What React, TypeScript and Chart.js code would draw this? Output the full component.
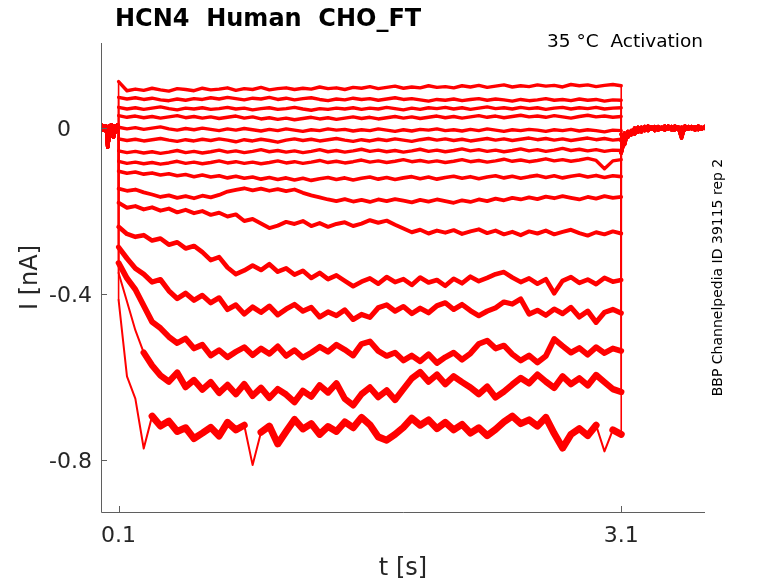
import React, { useRef, useEffect } from 'react';
import { Chart, registerables } from 'chart.js';

Chart.register(...registerables);

// ---- data (t in s, I in nA) ----

const holdTimes = [
  -0.005, 0, 0.005, 0.01, 0.015, 0.02, 0.025, 0.03, 0.035, 0.04, 0.045,
  0.05, 0.055, 0.06, 0.065, 0.07, 0.075, 0.08, 0.085, 0.09, 0.095, 0.1,
];
const holdValues = [
  0.004, -0.005, 0.006, -0.004, 0.005, -0.006, 0.004, -0.008, -0.046, -0.03, 0.005,
  -0.006, 0.007, -0.018, 0.004, -0.022, 0.006, -0.01, 0.005, -0.007, 0.008, 0.0,
];

const stepTimes = [
  0.1, 0.15, 0.2, 0.25, 0.3, 0.35, 0.4, 0.45, 0.5, 0.55,
  0.6, 0.65, 0.7, 0.75, 0.8, 0.85, 0.9, 0.95, 1.0, 1.05,
  1.1, 1.15, 1.2, 1.25, 1.3, 1.35, 1.4, 1.45, 1.5, 1.55,
  1.6, 1.65, 1.7, 1.75, 1.8, 1.85, 1.9, 1.95, 2.0, 2.05,
  2.1, 2.15, 2.2, 2.25, 2.3, 2.35, 2.4, 2.45, 2.5, 2.55,
  2.6, 2.65, 2.7, 2.75, 2.8, 2.85, 2.9, 2.95, 3.0, 3.05, 3.1,
];

const sweep01 = [
  0.112, 0.09, 0.094, 0.091, 0.096, 0.092, 0.089, 0.095, 0.093, 0.09,
  0.096, 0.092, 0.094, 0.097, 0.091, 0.095, 0.093, 0.098, 0.092, 0.095,
  0.097, 0.093, 0.096, 0.094, 0.099, 0.095, 0.097, 0.093, 0.098, 0.096,
  0.1, 0.095, 0.098, 0.101, 0.096, 0.099, 0.097, 0.102, 0.098, 0.1,
  0.097, 0.102, 0.099, 0.103, 0.098, 0.101, 0.104, 0.099, 0.102, 0.1,
  0.104, 0.101, 0.103, 0.099, 0.105, 0.102, 0.104, 0.1, 0.103, 0.105, 0.102,
];
const sweep02 = [
  0.074, 0.07, 0.073, 0.069, 0.072, 0.068, 0.066, 0.07, 0.067, 0.071,
  0.069, 0.073, 0.07, 0.074, 0.071, 0.068, 0.072, 0.07, 0.074, 0.069,
  0.072, 0.068, 0.071, 0.073, 0.069, 0.066, 0.07, 0.068, 0.072, 0.069,
  0.071, 0.067, 0.07, 0.073, 0.069, 0.071, 0.068, 0.065, 0.069, 0.067,
  0.07, 0.066, 0.069, 0.071, 0.067, 0.07, 0.068, 0.065, 0.069, 0.066,
  0.068, 0.071, 0.067, 0.069, 0.066, 0.07, 0.067, 0.069, 0.065, 0.068, 0.067,
];
const sweep03 = [
  0.05, 0.046, 0.049, 0.045, 0.048, 0.051, 0.047, 0.044, 0.048, 0.046,
  0.049, 0.045, 0.047, 0.05, 0.046, 0.048, 0.044, 0.047, 0.049, 0.045,
  0.047, 0.05, 0.046, 0.043, 0.047, 0.045, 0.048, 0.046, 0.049, 0.045,
  0.048, 0.046, 0.05, 0.047, 0.044, 0.048, 0.045, 0.049, 0.047, 0.05,
  0.046, 0.049, 0.045, 0.048, 0.051, 0.047, 0.049, 0.046, 0.05, 0.047,
  0.049, 0.045, 0.048, 0.05, 0.046, 0.049, 0.047, 0.05, 0.046, 0.048, 0.049,
];
const sweep04 = [
  0.03, 0.026, 0.029, 0.025, 0.028, 0.024, 0.027, 0.03, 0.025, 0.028,
  0.024, 0.027, 0.023, 0.026, 0.029, 0.024, 0.027, 0.022, 0.025, 0.021,
  0.024, 0.02, 0.023, 0.026, 0.022, 0.025, 0.021, 0.024, 0.027, 0.023,
  0.026, 0.022, 0.025, 0.028, 0.024, 0.027, 0.023, 0.026, 0.029, 0.025,
  0.028, 0.024, 0.027, 0.03, 0.026, 0.029, 0.025, 0.028, 0.031, 0.027,
  0.029, 0.026, 0.03, 0.027, 0.024, 0.028, 0.031, 0.027, 0.029, 0.026, 0.028,
];
const sweep05 = [
  0.002, -0.002, 0.001, -0.003, 0.0, 0.003, -0.002, -0.005, -0.001, -0.004,
  0.0, -0.003, -0.006, -0.002, -0.005, -0.001, -0.004, -0.007, -0.003, -0.006,
  -0.002, -0.005, -0.008, -0.004, -0.006, -0.002, -0.005, -0.003, -0.007, -0.004,
  -0.006, -0.002, -0.005, -0.008, -0.004, -0.007, -0.003, -0.005, -0.002, -0.006,
  -0.004, -0.007, -0.003, -0.006, -0.002, -0.005, -0.008, -0.004, -0.006, -0.003,
  -0.005, -0.008, -0.004, -0.006, -0.003, -0.007, -0.004, -0.006, -0.009, -0.005, -0.006,
];
const sweep06 = [
  -0.026, -0.03, -0.027, -0.031, -0.028, -0.025, -0.029, -0.032, -0.028, -0.031,
  -0.027, -0.03, -0.026, -0.029, -0.033, -0.028, -0.031, -0.027, -0.03, -0.034,
  -0.029, -0.026, -0.03, -0.027, -0.031, -0.028, -0.025, -0.029, -0.032, -0.028,
  -0.031, -0.027, -0.03, -0.026, -0.029, -0.032, -0.028, -0.025, -0.029, -0.026,
  -0.03, -0.027, -0.031, -0.028, -0.025, -0.029, -0.026, -0.03, -0.027, -0.024,
  -0.028, -0.025, -0.029, -0.026, -0.03, -0.027, -0.024, -0.028, -0.025, -0.029, -0.027,
];
const sweep07 = [
  -0.055, -0.059, -0.056, -0.06, -0.057, -0.061, -0.058, -0.054, -0.059, -0.056,
  -0.06, -0.057, -0.053, -0.058, -0.055, -0.059, -0.056, -0.052, -0.057, -0.054,
  -0.058, -0.055, -0.059, -0.056, -0.052, -0.057, -0.054, -0.058, -0.055, -0.051,
  -0.056, -0.053, -0.057, -0.054, -0.058, -0.055, -0.051, -0.056, -0.053, -0.057,
  -0.054, -0.05, -0.055, -0.052, -0.056, -0.053, -0.057, -0.054, -0.05, -0.055,
  -0.052, -0.056, -0.053, -0.049, -0.054, -0.051, -0.055, -0.052, -0.056, -0.053, -0.054,
];
const sweep08 = [
  -0.08, -0.085, -0.082, -0.086, -0.083, -0.087, -0.084, -0.08, -0.085, -0.082,
  -0.086, -0.083, -0.079, -0.084, -0.081, -0.085, -0.082, -0.086, -0.083, -0.079,
  -0.084, -0.081, -0.085, -0.082, -0.078, -0.083, -0.08, -0.084, -0.081, -0.077,
  -0.082, -0.079, -0.083, -0.08, -0.076, -0.081, -0.078, -0.082, -0.079, -0.083,
  -0.08, -0.076, -0.081, -0.078, -0.082, -0.079, -0.075, -0.08, -0.077, -0.081,
  -0.078, -0.074, -0.079, -0.076, -0.08, -0.077, -0.073, -0.078, -0.098, -0.079, -0.076,
];
const sweep09 = [
  -0.104, -0.109, -0.106, -0.111, -0.108, -0.113, -0.11, -0.115, -0.112, -0.117,
  -0.113, -0.118, -0.115, -0.12, -0.116, -0.121, -0.118, -0.123, -0.119, -0.124,
  -0.12, -0.125, -0.121, -0.126, -0.122, -0.119, -0.124, -0.12, -0.125, -0.121,
  -0.118, -0.123, -0.119, -0.124, -0.12, -0.117, -0.122, -0.118, -0.123, -0.119,
  -0.116, -0.121, -0.117, -0.122, -0.118, -0.115, -0.12, -0.116, -0.121, -0.117,
  -0.114, -0.119, -0.115, -0.12, -0.116, -0.113, -0.118, -0.114, -0.119, -0.115, -0.117,
];
const sweep10 = [
  -0.146, -0.151, -0.148, -0.155, -0.16, -0.166, -0.162, -0.168, -0.164, -0.169,
  -0.163, -0.167, -0.161, -0.153, -0.149, -0.145, -0.15, -0.146, -0.151, -0.147,
  -0.152, -0.148, -0.156, -0.162, -0.167, -0.172, -0.176, -0.171, -0.177, -0.173,
  -0.178, -0.172, -0.176, -0.171, -0.175, -0.179, -0.173, -0.177, -0.172, -0.176,
  -0.18, -0.174, -0.178, -0.172, -0.176, -0.17, -0.174, -0.168, -0.172, -0.167,
  -0.171, -0.165, -0.169, -0.164, -0.168, -0.172, -0.166, -0.17, -0.164, -0.168, -0.166,
];
const sweep11 = [
  -0.18, -0.192, -0.188, -0.196, -0.191, -0.199, -0.194, -0.203, -0.197, -0.205,
  -0.2, -0.209, -0.204, -0.213, -0.208, -0.224, -0.219, -0.23, -0.241, -0.235,
  -0.226, -0.231, -0.224, -0.236, -0.229, -0.238, -0.231, -0.227, -0.236, -0.23,
  -0.222, -0.228, -0.223, -0.233, -0.242, -0.251, -0.245, -0.254, -0.247, -0.252,
  -0.246, -0.255, -0.249, -0.244, -0.253, -0.247, -0.256, -0.25, -0.258, -0.249,
  -0.254, -0.247, -0.256, -0.25, -0.245, -0.253, -0.259, -0.251, -0.256, -0.249, -0.254,
];
const sweep12 = [
  -0.238, -0.255, -0.262, -0.258, -0.271, -0.266, -0.281, -0.275, -0.29, -0.284,
  -0.299, -0.318, -0.311, -0.336, -0.352, -0.343, -0.331, -0.342, -0.328, -0.346,
  -0.338, -0.353, -0.344, -0.361, -0.349, -0.364, -0.355, -0.368, -0.381, -0.37,
  -0.362, -0.375, -0.359, -0.371, -0.364, -0.378, -0.36, -0.372, -0.366, -0.38,
  -0.363, -0.374, -0.358, -0.369, -0.361, -0.352, -0.347, -0.36, -0.371, -0.362,
  -0.375, -0.364, -0.398, -0.368, -0.359, -0.373, -0.365, -0.376, -0.361, -0.37, -0.366,
];
const sweep13 = [
  -0.287, -0.314, -0.338, -0.352, -0.371, -0.365, -0.392, -0.411, -0.398, -0.415,
  -0.403, -0.421, -0.409, -0.437, -0.426, -0.448, -0.431, -0.444, -0.429, -0.45,
  -0.436, -0.425, -0.441, -0.432, -0.455, -0.443, -0.452, -0.438, -0.461, -0.449,
  -0.456, -0.433, -0.426, -0.441, -0.43, -0.447, -0.434, -0.445, -0.428, -0.421,
  -0.437, -0.425, -0.44, -0.452, -0.441, -0.433, -0.419, -0.424, -0.412, -0.448,
  -0.439, -0.451, -0.436, -0.447, -0.432, -0.455, -0.441, -0.468, -0.444, -0.437, -0.446,
];
const sweep14 = [
  -0.325, -0.362, -0.389, -0.428, -0.467, -0.482, -0.503, -0.518, -0.507, -0.531,
  -0.522, -0.548, -0.535, -0.552, -0.539, -0.528, -0.547, -0.531, -0.544, -0.526,
  -0.549, -0.535, -0.553, -0.541, -0.527, -0.539, -0.522, -0.534, -0.548, -0.52,
  -0.514, -0.537, -0.549, -0.541, -0.56, -0.548, -0.562, -0.545, -0.566, -0.552,
  -0.541, -0.558, -0.543, -0.52, -0.512, -0.531, -0.524, -0.545, -0.56, -0.548,
  -0.565, -0.549, -0.508, -0.525, -0.541, -0.53, -0.546, -0.528, -0.542, -0.531, -0.537,
];
const sweep15 = [
  -0.349, -0.418, -0.487, -0.541, -0.572, -0.596, -0.611, -0.589, -0.624, -0.607,
  -0.63, -0.612, -0.638, -0.619, -0.641, -0.617, -0.645, -0.626, -0.65, -0.629,
  -0.642, -0.66, -0.633, -0.647, -0.62, -0.637, -0.615, -0.652, -0.668, -0.641,
  -0.625, -0.648, -0.632, -0.655, -0.629, -0.603, -0.588, -0.611, -0.594, -0.617,
  -0.598, -0.612, -0.625, -0.641, -0.623, -0.649, -0.635, -0.618, -0.602, -0.615,
  -0.594, -0.611, -0.626, -0.598, -0.617, -0.603, -0.62, -0.595, -0.612, -0.629, -0.636,
];
const sweep16 = [
  -0.414, -0.598, -0.652, -0.772, -0.694, -0.718, -0.706, -0.731, -0.722, -0.748,
  -0.735, -0.721, -0.742, -0.709, -0.727, -0.716, -0.812, -0.733, -0.718, -0.761,
  -0.731, -0.702, -0.725, -0.712, -0.738, -0.719, -0.731, -0.708, -0.722, -0.697,
  -0.715, -0.744, -0.752, -0.738, -0.721, -0.699, -0.716, -0.703, -0.724, -0.709,
  -0.727, -0.714, -0.735, -0.722, -0.741, -0.726, -0.708, -0.694, -0.712, -0.703,
  -0.718, -0.697, -0.736, -0.771, -0.738, -0.724, -0.741, -0.716, -0.779, -0.727, -0.738,
];

const tailTimes = [
  3.1, 3.12, 3.14, 3.16, 3.18, 3.2, 3.22, 3.24, 3.26, 3.28,
  3.3, 3.32, 3.34, 3.36, 3.38, 3.4, 3.42, 3.44, 3.46, 3.48,
  3.5, 3.52, 3.54, 3.56, 3.58, 3.6,
];
const tailA = [
  -0.06, -0.028, -0.018, -0.01, -0.014, -0.004, -0.009, 0.001, -0.006, 0.003,
  -0.004, 0.004, -0.003, 0.005, -0.002, 0.004, -0.004, 0.003, -0.002, 0.005,
  -0.003, 0.004, -0.001, 0.005, -0.002, 0.003,
];
const tailB = [
  -0.03, -0.012, -0.022, -0.006, -0.012, 0.002, -0.007, 0.004, -0.005, 0.002,
  -0.006, 0.003, 0.0, -0.005, 0.004, -0.002, 0.005, -0.003, 0.002, -0.004,
  0.004, -0.002, 0.003, -0.004, 0.002, -0.001,
];
const tailC = [
  -0.015, -0.04, -0.008, -0.016, 0.0, -0.01, 0.002, -0.006, 0.005, -0.003,
  0.004, -0.005, 0.002, -0.002, 0.005, -0.004, -0.004, 0.002, -0.024, 0.004,
  -0.002, 0.003, -0.005, 0.002, -0.003, 0.004,
];

const sweeps = [
  sweep01, sweep02, sweep03, sweep04, sweep05, sweep06, sweep07, sweep08,
  sweep09, sweep10, sweep11, sweep12, sweep13, sweep14, sweep15, sweep16,
];
const tails = [tailA, tailB, tailC];

const xTicks = [0.1, 3.1];
const xTickLabels = ['0.1', '3.1'];
const yTicks = [0, -0.4, -0.8];
const yTickLabels = ['0', '-0.4', '-0.8'];

const titleText = 'HCN4  Human  CHO_FT';
const conditionText = '35 °C  Activation';
const sourceText = 'BBP Channelpedia ID 39115 rep 2';
const xTitle = 't [s]';
const yTitle = 'I [nA]';

// line widths standing in for the noise band of each sweep (px)
const sweepWidths = [3.4, 3.4, 3.4, 3.4, 3.4, 3.4, 3.4, 3.4, 3.6, 3.8, 4, 4.6, 5.2, 5.8, 6.4, 7];

const FONT = '"DejaVu Sans", "Noto Sans", sans-serif';

// axes, inward ticks and all the text, MATLAB style
const figureDecor = {
  id: 'figureDecor',
  afterDraw(chart: Chart) {
    const { ctx, chartArea: a } = chart;
    const xs = chart.scales.x;
    const ys = chart.scales.y;
    ctx.save();

    ctx.strokeStyle = '#5f5f5f';
    ctx.lineWidth = 1;
    ctx.beginPath();
    ctx.moveTo(a.left + 0.5, a.top);
    ctx.lineTo(a.left + 0.5, a.bottom + 0.5);
    ctx.lineTo(a.right, a.bottom + 0.5);
    yTicks.forEach((v) => {
      const py = Math.round(ys.getPixelForValue(v)) + 0.5;
      ctx.moveTo(a.left, py);
      ctx.lineTo(a.left + 6, py);
    });
    xTicks.forEach((v) => {
      const px = Math.round(xs.getPixelForValue(v)) + 0.5;
      ctx.moveTo(px, a.bottom);
      ctx.lineTo(px, a.bottom - 6);
    });
    ctx.stroke();

    ctx.fillStyle = '#262626';
    ctx.font = `22px ${FONT}`;
    ctx.textBaseline = 'alphabetic';
    ctx.textAlign = 'right';
    yTicks.forEach((v, i) => {
      const py = ys.getPixelForValue(v);
      // short labels keep the width of the longer ones in the original
      const label = yTickLabels[i].length === 1 ? yTickLabels[i] + '   ' : yTickLabels[i];
      ctx.fillText(label, a.left - 9, py + 8);
    });
    ctx.textAlign = 'center';
    xTicks.forEach((v, i) => {
      ctx.fillText(xTickLabels[i], xs.getPixelForValue(v), a.bottom + 30);
    });

    ctx.font = `24px ${FONT}`;
    ctx.fillText(xTitle, (a.left + a.right) / 2, 575);
    ctx.save();
    ctx.translate(37, (a.top + a.bottom) / 2);
    ctx.rotate(-Math.PI / 2);
    ctx.fillText(yTitle, 0, 0);
    ctx.restore();

    ctx.fillStyle = '#000';
    ctx.font = `bold 24px ${FONT}`;
    ctx.textAlign = 'left';
    ctx.fillText(titleText, a.left + 14, 26);

    ctx.font = `18.5px ${FONT}`;
    ctx.textAlign = 'right';
    ctx.fillText(conditionText, a.right - 2, 47);

    ctx.font = `14px ${FONT}`;
    ctx.textAlign = 'center';
    ctx.save();
    ctx.translate(722, (a.top + a.bottom) / 2);
    ctx.rotate(-Math.PI / 2);
    ctx.fillText(sourceText, 0, 0);
    ctx.restore();

    ctx.restore();
  },
};

const TraceChart: React.FC = () => {
  const canvasRef = useRef<HTMLCanvasElement>(null);
  const chartRef = useRef<Chart | null>(null);

  useEffect(() => {
    if (!canvasRef.current) return;
    if (chartRef.current) chartRef.current.destroy();
    const ctx = canvasRef.current.getContext('2d');
    if (!ctx) return;

    const datasets = sweeps.map((sweep, i) => {
      const tail = tails[i % tails.length];
      const bandWidth = sweepWidths[i];
      return {
        data: [
          ...holdTimes.map((t, j) => ({ x: t, y: holdValues[j] })),
          ...stepTimes.map((t, j) => ({ x: t, y: sweep[j] })),
          ...tailTimes.map((t, j) => ({ x: t, y: tail[j] })),
        ],
        borderColor: '#ff0000',
        borderWidth: bandWidth,
        borderJoinStyle: 'round' as const,
        borderCapStyle: 'round' as const,
        pointRadius: 0,
        tension: 0,
        fill: false,
        segment: {
          // steps and fast transients are thin strokes, not bands
          borderWidth: (c: any) => {
            const dx = Math.abs(c.p1.x - c.p0.x);
            const dy = Math.abs(c.p1.y - c.p0.y);
            if (dx < 0.5) return 1.6;
            if (c.p0.parsed.x >= 3.1 || c.p1.parsed.x <= 0.1) return 3.4;
            return dy > 2.5 * dx ? 2 : bandWidth;
          },
        },
      };
    });

    chartRef.current = new Chart(ctx, {
      type: 'line',
      data: { datasets },
      options: {
        responsive: false,
        maintainAspectRatio: false,
        animation: false,
        layout: { padding: { left: 101, right: 73, top: 43, bottom: 71 } },
        plugins: {
          legend: { display: false },
          tooltip: { enabled: false },
        },
        scales: {
          x: { type: 'linear', min: -0.005, max: 3.6, display: false },
          y: { type: 'linear', min: -0.925, max: 0.205, display: false },
        },
      },
      plugins: [figureDecor],
    });

    return () => {
      if (chartRef.current) {
        chartRef.current.destroy();
        chartRef.current = null;
      }
    };
  }, []);

  return <canvas ref={canvasRef} width={778} height={583} />;
};

export default function App() {
  return (
    <div style={{ position: 'fixed', left: 0, top: 0, width: 778, height: 583, background: '#fff' }}>
      <TraceChart />
    </div>
  );
}
